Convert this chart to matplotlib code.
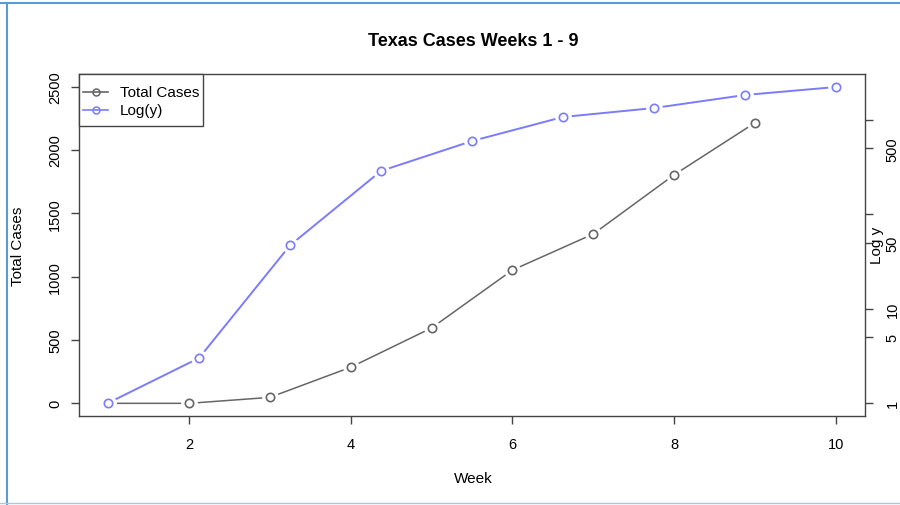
import matplotlib
matplotlib.use("Agg")
import matplotlib.pyplot as plt
from matplotlib.lines import Line2D
from matplotlib.patches import Rectangle

plt.rcParams['font.family'] = ['Liberation Sans', 'DejaVu Sans']

# data
weeks = [1, 2, 3, 4, 5, 6, 7, 8, 9]
total_cases = [0, 0, 47, 285, 595, 1052, 1337, 1804, 2215]
log_points = [1, 3, 47, 289, 600, 1079, 1343, 1846, 2244]

x_ticks = [2, 4, 6, 8, 10]
left_ticks = [0, 500, 1000, 1500, 2000, 2500]
right_ticks = [1, 5, 10, 50, 100, 500, 1000]
right_labels = ['1', '5', '10', '50', '', '500', '']
legend_labels = ['Total Cases', 'Log(y)']

GRAY = '#666666'
BLUE = '#7b7bff'
AXC = '#444444'
W, H = 900, 506

fig = plt.figure(figsize=(9, 5.06), dpi=100)
rect = [79/W, 1 - 417/H, (865-79)/W, (417-75)/H]

ax = fig.add_axes(rect)
ax2 = fig.add_axes(rect)
ax2.patch.set_visible(False)

def series(a, x, y, col, lw, z):
    # R type="b": line with gaps round the points
    a.plot(x, y, color=col, lw=lw, zorder=z)
    a.plot(x, y, ls='none', marker='o', ms=12, mfc='white', mec='none', zorder=z+0.1)
    a.plot(x, y, ls='none', marker='o', ms=6, mfc='none', mec=col, mew=1.2, zorder=z+0.2)

series(ax, weeks, total_cases, GRAY, 1.1, 2)
ax.set_xlim(0.64, 10.36)
ax.set_ylim(-100, 2600)
ax.set_xticks(x_ticks)
ax.set_yticks(left_ticks)
ax.set_yticklabels([str(t) for t in left_ticks], rotation=90, va='center')
ax.tick_params(colors=AXC, labelcolor='black', labelsize=10.5, length=6, width=1, pad=6)
ax.tick_params(axis='x', pad=9)
for s in ax.spines.values():
    s.set_color(AXC)
    s.set_linewidth(1)

series(ax2, weeks, log_points, BLUE, 1.4, 3)
ax2.set_yscale('log')
ax2.set_xlim(0.68, 9.32)
ax2.set_ylim(10**-0.138, 10**3.489)
ax2.set_xticks([])
ax2.yaxis.tick_right()
ax2.set_yticks(right_ticks)
ax2.set_yticklabels(right_labels, rotation=90, va='center')
ax2.yaxis.set_minor_locator(plt.NullLocator())
ax2.tick_params(colors=AXC, labelcolor='black', labelsize=10.5, length=6, width=1, pad=9)
for s in ax2.spines.values():
    s.set_visible(False)

fig.text(473/W, 1 - 42/H, 'Texas Cases Weeks 1 - 9', ha='center', va='center',
         fontsize=13, fontweight='bold')
fig.text(473/W, 1 - 479/H, 'Week', ha='center', va='center', fontsize=11)
fig.text(18/W, 1 - 246/H, 'Total Cases', ha='center', va='center', rotation=90, fontsize=11)
fig.text(877/W, 1 - 245/H, 'Log y', ha='center', va='center', rotation=90, fontsize=11)

# legend box drawn by hand (R style: more room above and below than at the sides)
fig.add_artist(Rectangle((79/W, 1 - 127/H), (203-79)/W, (127-75)/H, fill=True,
                         facecolor='white', edgecolor=AXC, lw=1, zorder=5))
for i, (lab, col) in enumerate(zip(legend_labels, [GRAY, BLUE])):
    yy = 1 - (93 + 18*i)/H
    fig.add_artist(Line2D([83/W, 108/W], [yy, yy], color=col, lw=1.2, zorder=6))
    fig.add_artist(Line2D([95.5/W], [yy], marker='o', ms=5, mfc='none', mec=col, mew=1.1, zorder=7))
    fig.text(120/W, yy, lab, ha='left', va='center', fontsize=11, zorder=7)

# screenshot border
fig.add_artist(Line2D([0, 1], [1 - 4/H, 1 - 4/H], color='#5b9bd5', lw=1.5))
fig.add_artist(Line2D([7/W, 7/W], [0, 1 - 4/H], color='#5b9bd5', lw=1.5))
fig.add_artist(Line2D([0, 1], [1 - 504/H, 1 - 504/H], color='#a9c8e8', lw=1))

fig.savefig('out.png', dpi=100)
